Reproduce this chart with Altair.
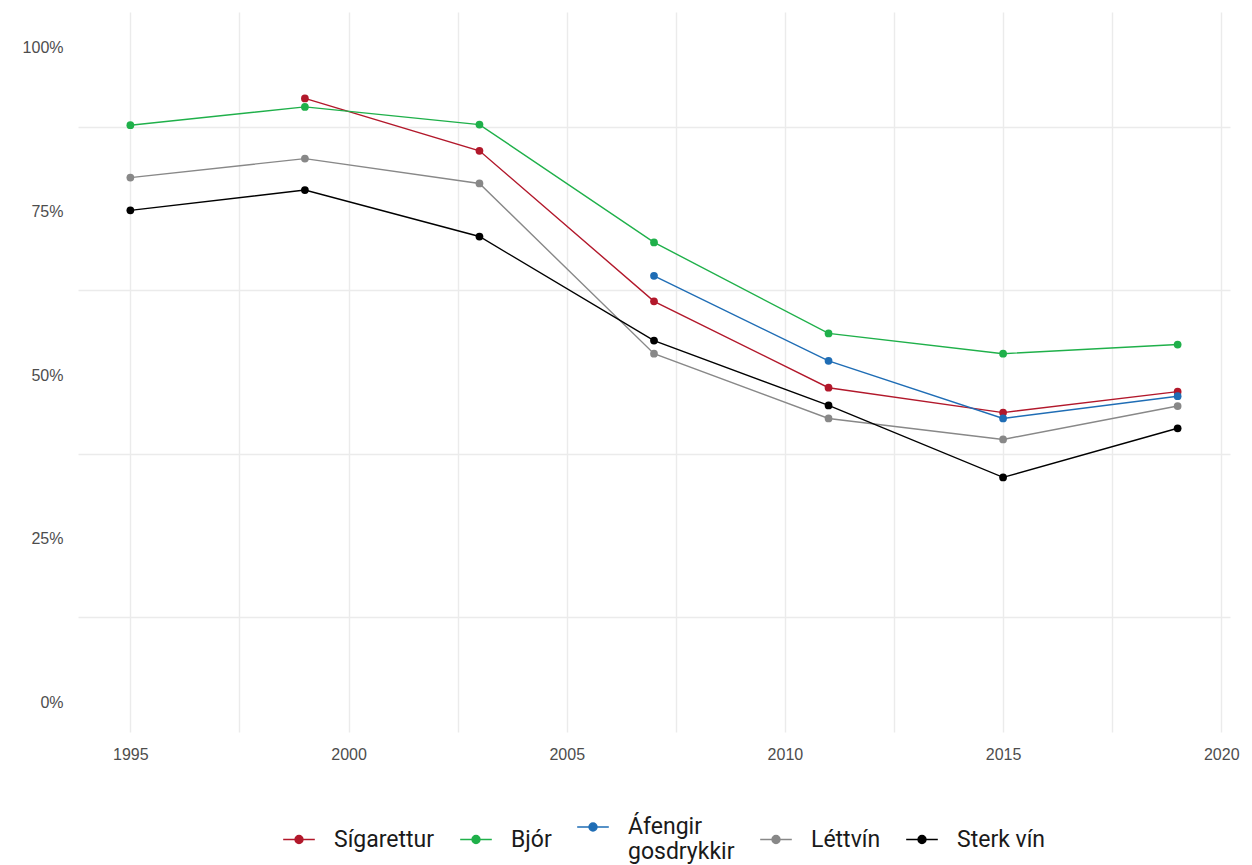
import altair as alt
import pandas as pd

years = [1995, 1999, 2003, 2007, 2011, 2015, 2019]
series_names = ["Sígarettur", "Bjór", "Áfengir gosdrykkir", "Léttvín", "Sterk vín"]
sigarettur = [None, 0.918, 0.838, 0.608, 0.476, 0.438, 0.470]
bjor = [0.877, 0.905, 0.878, 0.698, 0.559, 0.528, 0.542]
afengir = [None, None, None, 0.647, 0.517, 0.429, 0.463]
lettvin = [0.797, 0.826, 0.788, 0.528, 0.429, 0.397, 0.448]
sterk = [0.747, 0.778, 0.707, 0.548, 0.449, 0.339, 0.414]
colors = ["#b2182b", "#1fb04a", "#1f6db5", "#888888", "#000000"]

rows = []
for name, vals in zip(series_names, [sigarettur, bjor, afengir, lettvin, sterk]):
    for y, v in zip(years, vals):
        if v is not None:
            rows.append({"year": y, "value": v, "series": name})
df = pd.DataFrame(rows)

x_grid = [1995, 1997.5, 2000, 2002.5, 2005, 2007.5, 2010, 2012.5, 2015, 2017.5, 2020]
y_grid = [0, 0.125, 0.25, 0.375, 0.5, 0.625, 0.75, 0.875, 1.0]

sym = "M-1,0H1M-0.25,0A0.25,0.25,0,1,1,0.25,0A0.25,0.25,0,1,1,-0.25,0Z"

chart = alt.Chart(df).mark_line(
    strokeWidth=1.4,
    point=alt.OverlayMarkDef(filled=True, size=60, opacity=1),
).encode(
    x=alt.X("year:Q", scale=alt.Scale(domain=[1993.8, 2020.2], nice=False, zero=False),
            axis=alt.Axis(values=x_grid, title=None, ticks=False, domain=False,
                          labelExpr="datum.value % 5 == 0 ? datum.value : ''",
                          gridColor="#ebebeb", gridWidth=1.4, labelPadding=14)),
    y=alt.Y("value:Q", scale=alt.Scale(domain=[-0.05, 1.05], nice=False, zero=False),
            axis=alt.Axis(values=y_grid, title=None, ticks=False, domain=False,
                          labelExpr="(datum.value * 4) % 1 == 0 ? format(datum.value, '.0%') : ''",
                          gridColor="#ebebeb", gridWidth=1.4,
                          gridOpacity={"condition": {"test": "(datum.value * 8) % 2 == 1", "value": 1}, "value": 0},
                          labelPadding=15, labelOffset=3)),
    color=alt.Color("series:N", scale=alt.Scale(domain=series_names, range=colors),
                    sort=series_names,
                    legend=alt.Legend(
                        title=None, orient="none", direction="horizontal",
                        legendX=204, legendY=798,
                        symbolType=sym, symbolSize=1000, symbolStrokeWidth=1.5,
                        labelFont="Roboto", labelFontSize=23, labelColor="#1a1a1a",
                        labelExpr="datum.label == 'Áfengir gosdrykkir' ? ['Áfengir', 'gosdrykkir'] : datum.label",
                        labelOffset=18, columnPadding=22, labelLimit=300)),
).properties(
    width=1152, height=720,
    autosize=alt.AutoSizeParams(type="none"),
    padding={"left": 70, "top": 4, "right": 14, "bottom": 132},
).configure_view(stroke=None).configure_axis(
    labelFont="Liberation Sans", labelFontSize=16, labelColor="#4d4d4d",
)

chart.save("out.html", embed_options={"renderer": "svg", "actions": False})
